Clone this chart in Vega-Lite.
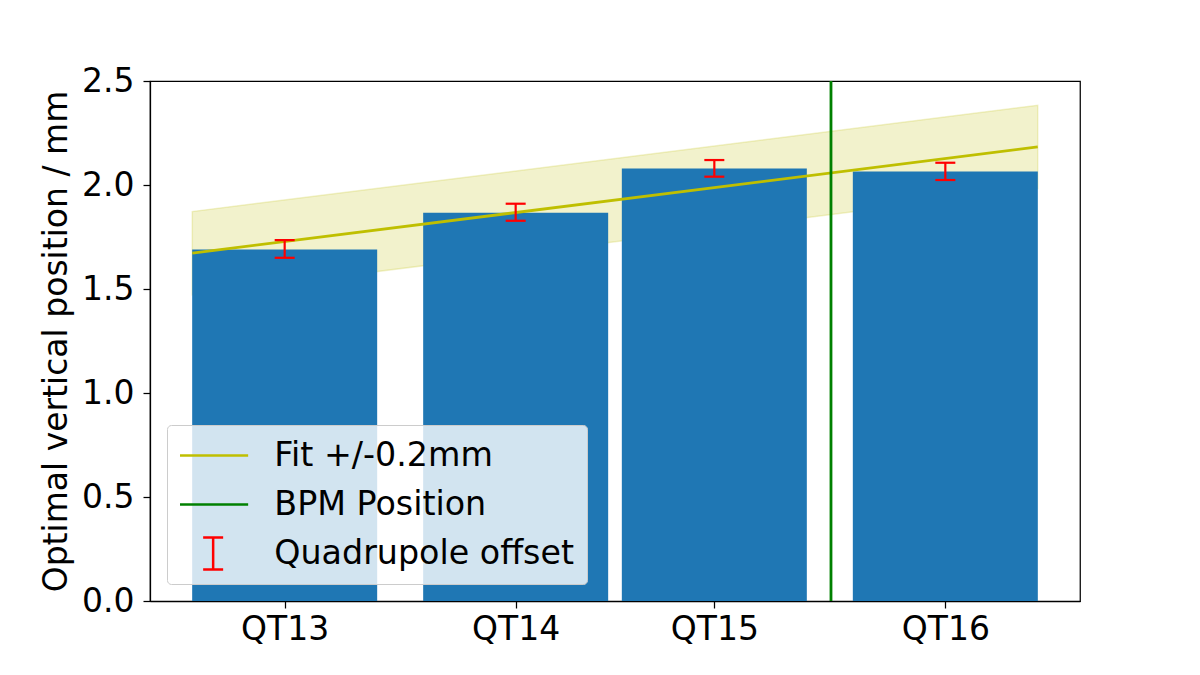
{
  "$schema": "https://vega.github.io/schema/vega-lite/v6.json",
  "description": "Optimal vertical quadrupole positions with linear fit and BPM position",
  "width": 930,
  "height": 520,
  "autosize": {"type": "none"},
  "padding": {"left": 150, "top": 81, "right": 120, "bottom": 74},
  "background": "white",
  "datasets": {
    "quads": [
      {"quad": "QT13", "pos": 0.0, "value": 1.690, "lo": 1.650, "hi": 1.735},
      {"quad": "QT14", "pos": 1.0, "value": 1.867, "lo": 1.828, "hi": 1.910},
      {"quad": "QT15", "pos": 1.86, "value": 2.079, "lo": 2.040, "hi": 2.120},
      {"quad": "QT16", "pos": 2.86, "value": 2.065, "lo": 2.024, "hi": 2.107}
    ],
    "fit": [
      {"pos": -0.4, "fit": 1.672, "band_lo": 1.472, "band_hi": 1.872},
      {"pos": 3.26, "fit": 2.183, "band_lo": 1.983, "band_hi": 2.383}
    ],
    "bpm": [
      {"pos": 2.365}
    ],
    "legend": [
      {"series": "Fit +/-0.2mm"},
      {"series": "BPM Position"},
      {"series": "Quadrupole offset"}
    ]
  },
  "layer": [
    {
      "data": {"name": "fit"},
      "mark": {"type": "area", "color": "#bfbf00", "fillOpacity": 0.2, "stroke": "#bfbf00", "strokeOpacity": 0.2, "strokeWidth": 1.5},
      "encoding": {
        "x": {"field": "pos", "type": "quantitative"},
        "y": {"field": "band_lo", "type": "quantitative"},
        "y2": {"field": "band_hi"}
      }
    },
    {
      "data": {"name": "quads"},
      "mark": {"type": "bar", "color": "#1f77b4", "size": 185, "orient": "vertical"},
      "encoding": {
        "x": {"field": "pos", "type": "quantitative"},
        "y": {"field": "value", "type": "quantitative", "stack": null}
      }
    },
    {
      "data": {"name": "fit"},
      "mark": {"type": "line", "color": "#bfbf00", "strokeWidth": 2.8},
      "encoding": {
        "x": {"field": "pos", "type": "quantitative"},
        "y": {"field": "fit", "type": "quantitative"}
      }
    },
    {
      "data": {"name": "bpm"},
      "mark": {"type": "rule", "color": "#008000", "strokeWidth": 2.8},
      "encoding": {
        "x": {"field": "pos", "type": "quantitative"}
      }
    },
    {
      "data": {"name": "quads"},
      "mark": {"type": "rule", "color": "#ff0000", "strokeWidth": 2.2, "opacity": 1},
      "encoding": {
        "x": {"field": "pos", "type": "quantitative"},
        "y": {"field": "lo", "type": "quantitative"},
        "y2": {"field": "hi"}
      }
    },
    {
      "data": {"name": "quads"},
      "mark": {"type": "tick", "color": "#ff0000", "orient": "horizontal", "size": 20, "thickness": 2.2, "opacity": 1},
      "encoding": {
        "x": {"field": "pos", "type": "quantitative"},
        "y": {"field": "lo", "type": "quantitative"}
      }
    },
    {
      "data": {"name": "quads"},
      "mark": {"type": "tick", "color": "#ff0000", "orient": "horizontal", "size": 20, "thickness": 2.2, "opacity": 1},
      "encoding": {
        "x": {"field": "pos", "type": "quantitative"},
        "y": {"field": "hi", "type": "quantitative"}
      }
    },
    {
      "data": {"name": "legend"},
      "transform": [{"filter": "false"}],
      "mark": {"type": "point", "filled": false, "strokeWidth": 2.5, "opacity": 1},
      "encoding": {
        "color": {
          "field": "series",
          "type": "nominal",
          "scale": {"domain": ["Fit +/-0.2mm", "BPM Position", "Quadrupole offset"], "range": ["#bfbf00", "#008000", "#ff0000"]},
          "legend": {"title": null}
        },
        "shape": {
          "field": "series",
          "type": "nominal",
          "scale": {"domain": ["Fit +/-0.2mm", "BPM Position", "Quadrupole offset"], "range": ["M-3.5,0H3.5", "M-3.5,0H3.5", "M-1,-1.6H1M0,-1.6V1.6M-1,1.6H1"]},
          "legend": {"title": null}
        }
      }
    }
  ],
  "encoding": {
    "x": {
      "field": "pos",
      "type": "quantitative",
      "scale": {"domain": [-0.583, 3.443], "nice": false, "zero": false, "padding": 0},
      "axis": {
        "title": null,
        "values": [0, 1, 1.86, 2.86],
        "labelExpr": "datum.value < 0.5 ? 'QT13' : datum.value < 1.5 ? 'QT14' : datum.value < 2.5 ? 'QT15' : 'QT16'",
        "labelPadding": 5
      }
    },
    "y": {
      "type": "quantitative",
      "scale": {"domain": [0, 2.5], "nice": false, "padding": 0},
      "axis": {
        "title": "Optimal vertical position / mm",
        "values": [0, 0.5, 1, 1.5, 2, 2.5],
        "format": ".1f",
        "labelPadding": 9,
        "titlePadding": 8.5
      }
    }
  },
  "config": {
    "font": "DejaVu Sans",
    "view": {"stroke": "#000000", "strokeWidth": 1.25},
    "axis": {
      "grid": false,
      "domainColor": "#000000",
      "domainWidth": 1.25,
      "tickColor": "#000000",
      "tickWidth": 1.25,
      "tickSize": 7,
      "labelFont": "DejaVu Sans",
      "labelFontSize": 33,
      "labelColor": "#000000",
      "titleFont": "DejaVu Sans",
      "titleFontSize": 33,
      "titleFontWeight": "normal",
      "titleColor": "#000000"
    },
    "legend": {
      "orient": "bottom-left",
      "offset": 17,
      "padding": 13,
      "fillColor": "rgba(255,255,255,0.8)",
      "strokeColor": "#cccccc",
      "cornerRadius": 4,
      "labelFont": "DejaVu Sans",
      "labelFontSize": 33.3,
      "labelColor": "#000000",
      "labelLimit": 0,
      "labelOffset": 44.5,
      "symbolOffset": 16.5,
      "symbolSize": 400,
      "symbolStrokeWidth": 2.5,
      "symbolOpacity": 1,
      "clipHeight": 35,
      "rowPadding": 14
    }
  }
}
